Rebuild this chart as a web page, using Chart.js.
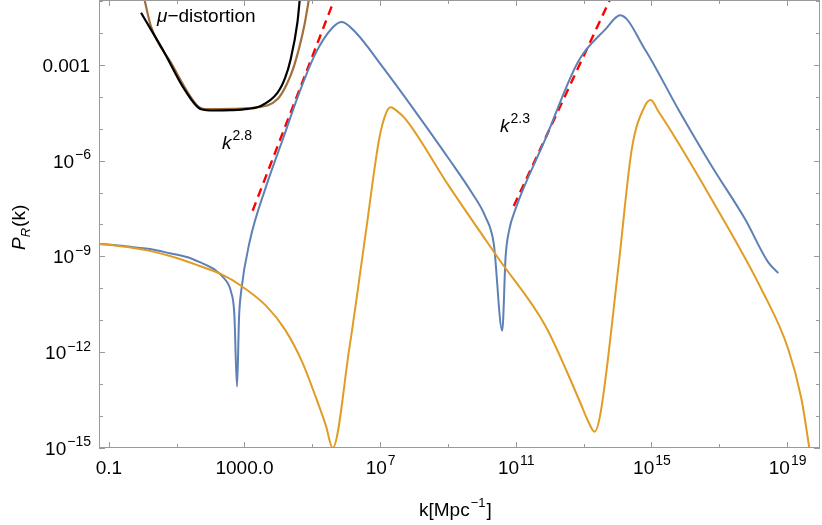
<!DOCTYPE html>
<html>
<head>
<meta charset="utf-8">
<script src="https://cdn.jsdelivr.net/npm/chart.js@4"></script>
<style>
  html, body { margin: 0; padding: 0; background: #fff; }
  #wrap { width: 822px; height: 525px; }
</style>
</head>
<body>
<div id="wrap"><canvas id="spectrumChart"></canvas></div>
<script>
// all values are log10(k) and log10(P_R)
const blueLogK = [-1.3, -0.8, -0.2, 0.21, 0.8, 1.3, 1.68, 2.1, 2.41, 2.6, 2.7, 2.78, 2.84, 2.9, 3.15, 3.64, 4.13, 4.62, 5.11, 5.6, 5.87, 6.28, 7.06, 8.05, 9.03, 9.7, 10.1, 10.35, 10.6, 10.7, 10.8, 10.99, 11.87, 12.85, 13.64, 14.08, 14.81, 15.79, 16.77, 17.76, 18.44, 18.74];
const blueLogP = [-8.61, -8.65, -8.72, -8.77, -8.9, -9.02, -9.18, -9.4, -9.7, -10.1, -10.8, -13.08, -10.9, -10.11, -8.55, -6.8, -5.33, -3.86, -2.61, -1.83, -1.66, -1.99, -3.05, -4.48, -5.95, -7.0, -7.75, -8.6, -11.33, -9.0, -8.2, -7.52, -5.33, -2.88, -1.89, -1.45, -2.52, -4.39, -6.16, -7.83, -9.18, -9.52];

const orangeLogK = [-1.3, -0.5, 0.3, 1.0, 1.68, 2.3, 2.9, 3.64, 4.2, 4.7, 5.1, 5.4, 5.6, 6.09, 6.58, 6.97, 7.18, 7.31, 7.5, 7.75, 9.03, 10.5, 11.87, 12.85, 13.15, 13.32, 13.5, 14.03, 14.42, 14.8, 14.98, 15.2, 15.6, 16.77, 18.24, 19.03, 19.42, 19.67];
const orangeLogP = [-8.6, -8.7, -8.85, -9.05, -9.3, -9.55, -9.92, -10.55, -11.3, -12.3, -13.4, -14.3, -15.0, -11.89, -8.23, -5.33, -4.5, -4.33, -4.45, -4.7, -6.8, -9.08, -11.17, -13.45, -14.2, -14.49, -13.9, -9.29, -5.64, -4.3, -4.1, -4.45, -5.11, -7.2, -10.02, -11.89, -13.45, -15.1];

const blackLogK = [-0.05, 0.3, 0.64, 1.23, 1.72, 2.1, 2.6, 3.1, 3.48, 3.97, 4.2, 4.36, 4.56, 4.63];
const blackLogP = [-1.37, -2.0, -2.62, -3.77, -4.39, -4.43, -4.42, -4.38, -4.29, -3.88, -3.4, -2.83, -1.68, -0.95];

const brownLogK = [0.05, 0.24, 0.83, 1.62, 1.91, 2.6, 3.29, 3.97, 4.25, 4.46, 4.76, 4.9];
const brownLogP = [-0.95, -1.79, -2.93, -4.29, -4.39, -4.38, -4.34, -4.08, -3.6, -3.04, -1.79, -0.95];

const fit1LogK = [3.24, 5.65];
const fit1LogP = [-7.57, -0.95];
const fit2LogK = [10.94, 13.78];
const fit2LogP = [-7.42, -0.95];

const xTickMajor = [-1, 3, 7, 11, 15, 19];
const xTickLabels = ['0.1', '1000.0', '10^7', '10^11', '10^15', '10^19'];
const xTickMinor = [1, 5, 9, 13, 17];
const yTickMajor = [-3, -6, -9, -12, -15];
const yTickLabels = ['0.001', '10^-6', '10^-9', '10^-12', '10^-15'];

const X_MIN = -1.29, X_MAX = 19.97, Y_MIN = -15, Y_MAX = -0.97;

function pts(xs, ys) {
    return xs.map((x, i) => ({ x: x, y: ys[i] }));
}

const FONT = '"Liberation Sans", Arial, sans-serif';

// draws "base^exp" style text, exponent raised and smaller
function drawSup(ctx, str, x, y, align, size, italicBase) {
    const parts = str.split('^');
    const base = parts[0];
    const exp = parts[1] ? parts[1].replace('-', '\u2212') : '';
    ctx.font = (italicBase ? 'italic ' : '') + size + 'px ' + FONT;
    const wb = ctx.measureText(base).width;
    ctx.font = Math.round(size * 0.72) + 'px ' + FONT;
    const we = ctx.measureText(exp).width;
    const total = wb + we;
    let x0 = x;
    if (align === 'center') x0 = x - total / 2;
    else if (align === 'right') x0 = x - total;
    ctx.textAlign = 'left';
    ctx.textBaseline = 'alphabetic';
    ctx.font = (italicBase ? 'italic ' : '') + size + 'px ' + FONT;
    ctx.fillText(base, x0, y);
    ctx.font = Math.round(size * 0.72) + 'px ' + FONT;
    ctx.fillText(exp, x0 + wb + 1, y - size * 0.45);
}

const framePlugin = {
    id: 'frame',
    afterDatasetsDraw(chart) {
        const ctx = chart.ctx;
        const a = chart.chartArea;
        const xs = chart.scales.x, ys = chart.scales.y;
        ctx.save();
        ctx.strokeStyle = '#9a9a9a';
        ctx.lineWidth = 1;
        ctx.strokeRect(a.left + 0.5, a.top + 0.5, a.right - a.left - 1, a.bottom - a.top - 1);
        ctx.beginPath();
        const tickX = (v, len) => {
            const p = Math.round(xs.getPixelForValue(v)) + 0.5;
            ctx.moveTo(p, a.bottom); ctx.lineTo(p, a.bottom - len);
            ctx.moveTo(p, a.top); ctx.lineTo(p, a.top + len);
        };
        const tickY = (v, len) => {
            const p = Math.round(ys.getPixelForValue(v)) + 0.5;
            ctx.moveTo(a.left, p); ctx.lineTo(a.left + len, p);
            ctx.moveTo(a.right, p); ctx.lineTo(a.right - len, p);
        };
        xTickMajor.forEach(v => tickX(v, 6));
        xTickMinor.forEach(v => tickX(v, 4));
        for (let v = -15; v <= -1; v++) tickY(v, yTickMajor.includes(v) ? 6 : 4);
        ctx.stroke();

        ctx.fillStyle = '#000';
        xTickMajor.forEach((v, i) => {
            drawSup(ctx, xTickLabels[i], xs.getPixelForValue(v), a.bottom + 26, 'center', 19, false);
        });
        yTickMajor.forEach((v, i) => {
            drawSup(ctx, yTickLabels[i], a.left - 9, ys.getPixelForValue(v) + 7, 'right', 19, false);
        });

        // axis titles
        ctx.font = '19px ' + FONT;
        ctx.textAlign = 'left';
        const tx = 419, ty = 516;
        ctx.fillText('k[Mpc', tx, ty);
        let w = ctx.measureText('k[Mpc').width;
        ctx.font = '13px ' + FONT;
        ctx.fillText('\u22121', tx + w + 1, ty - 9);
        let w2 = ctx.measureText('\u22121').width;
        ctx.font = '19px ' + FONT;
        ctx.fillText(']', tx + w + w2 + 2, ty);

        ctx.save();
        ctx.translate(25, 224);
        ctx.rotate(-Math.PI / 2);
        ctx.font = 'italic 19px ' + FONT;
        ctx.textAlign = 'left';
        ctx.fillText('P', -26, 0);
        let wp = ctx.measureText('P').width;
        ctx.font = 'italic 13px ' + FONT;
        ctx.fillText('R', -26 + wp, 5);
        let wr = ctx.measureText('R').width;
        ctx.font = '19px ' + FONT;
        ctx.fillText('(k)', -26 + wp + wr + 1, 0);
        ctx.restore();

        // annotations
        ctx.font = 'italic 19px ' + FONT;
        ctx.fillText('\u03bc', 157, 22);
        let wm = ctx.measureText('\u03bc').width;
        ctx.font = '19px ' + FONT;
        ctx.fillText('\u2212distortion', 157 + wm, 22);
        drawSup(ctx, 'k^2.8', 222, 149, 'left', 19, true);
        drawSup(ctx, 'k^2.3', 500, 132, 'left', 19, true);
        ctx.restore();
    }
};

const lineDs = (label, data, color, width, dash) => ({
    label: label,
    data: data,
    borderColor: color,
    borderWidth: width,
    borderDash: dash || [],
    pointRadius: 0,
    cubicInterpolationMode: 'monotone',
    fill: false
});

new Chart(document.getElementById('spectrumChart').getContext('2d'), {
    type: 'line',
    data: {
        datasets: [
            lineDs('black', pts(blackLogK, blackLogP), '#000000', 2.2),
            lineDs('brown', pts(brownLogK, brownLogP), '#a0703c', 2.2),
            lineDs('orange', pts(orangeLogK, orangeLogP), '#e19c24', 2),
            lineDs('blue', pts(blueLogK, blueLogP), '#5e81b5', 2),
            lineDs('fit1', pts(fit1LogK, fit1LogP), '#ff0000', 2.4, [9, 6]),
            lineDs('fit2', pts(fit2LogK, fit2LogP), '#ff0000', 2.4, [9, 6])
        ]
    },
    options: {
        responsive: true,
        maintainAspectRatio: false,
        animation: false,
        layout: { padding: { left: 99, right: 2, top: 0, bottom: 77 } },
        plugins: { legend: { display: false }, tooltip: { enabled: false } },
        scales: {
            x: { type: 'linear', min: X_MIN, max: X_MAX, display: false },
            y: { type: 'linear', min: Y_MIN, max: Y_MAX, display: false }
        }
    },
    plugins: [framePlugin]
});
</script>
</body>
</html>
